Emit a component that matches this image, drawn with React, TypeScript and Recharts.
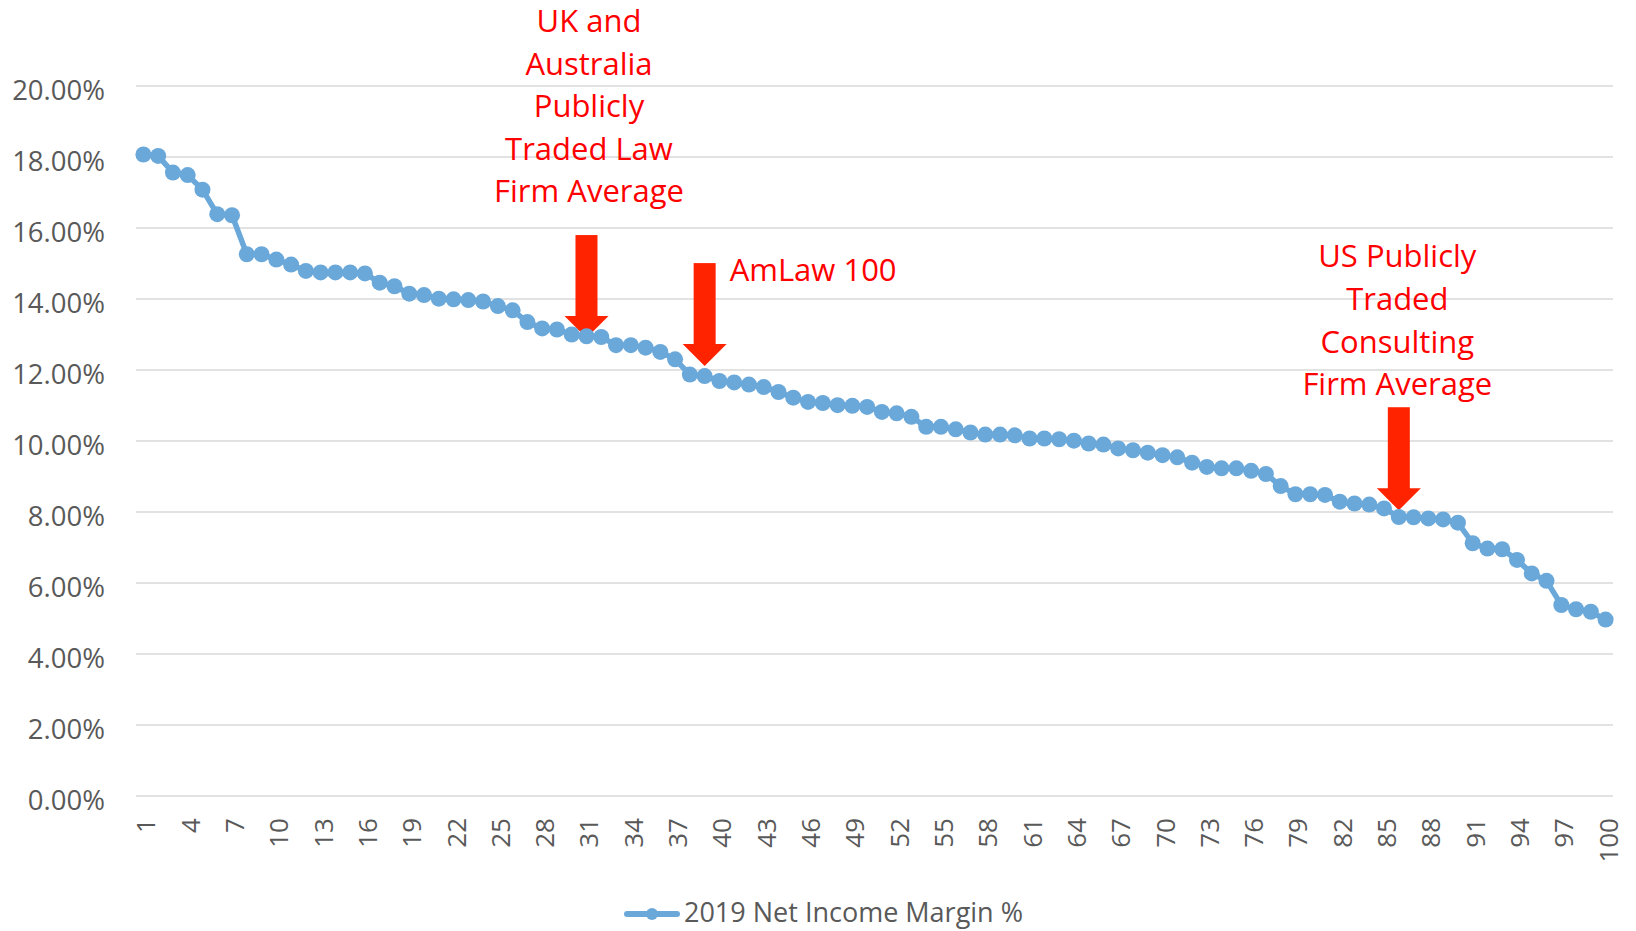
import { LineChart, Line, XAxis, YAxis, CartesianGrid, ReferenceDot, Legend } from 'recharts'

const FONT = "'Open Sans', sans-serif"
const BLUE = '#6AA8DA'
const ARROW_RED = '#FF2300'
const TEXT_RED = '#FF0000'
const GREY = '#595959'

// firm rank 1..100
const ranks = Array.from({ length: 100 }, (_, i) => i + 1)

// 2019 net income margin, in percent
const margins = [
  18.07, 18.03, 17.56, 17.49, 17.08, 16.39, 16.36, 15.26, 15.26, 15.11,
  14.97, 14.79, 14.75, 14.75, 14.75, 14.72, 14.46, 14.36, 14.15, 14.11,
  14.01, 13.99, 13.97, 13.93, 13.8, 13.68, 13.35, 13.17, 13.14, 13.0,
  12.95, 12.93, 12.7, 12.7, 12.63, 12.51, 12.3, 11.87, 11.83, 11.69,
  11.65, 11.59, 11.52, 11.38, 11.22, 11.1, 11.07, 11.01, 10.99, 10.96,
  10.82, 10.78, 10.68, 10.4, 10.4, 10.33, 10.24, 10.18, 10.18, 10.16,
  10.07, 10.07, 10.05, 10.01, 9.93, 9.9, 9.79, 9.74, 9.67, 9.6,
  9.54, 9.39, 9.27, 9.23, 9.23, 9.16, 9.07, 8.73, 8.5, 8.5,
  8.48, 8.29, 8.24, 8.21, 8.1, 7.86, 7.85, 7.82, 7.79, 7.7,
  7.12, 6.97, 6.95, 6.65, 6.27, 6.06, 5.38, 5.26, 5.19, 4.97,
]

const yTicks = [0, 2, 4, 6, 8, 10, 12, 14, 16, 18, 20]

// benchmark averages marked with arrows (rank position, margin %)
const ukAvg = { rank: 31, value: 12.9 }
const amLawAvg = { rank: 39, value: 12.11 }
const usConsultAvg = { rank: 86, value: 8.05 }

const ukLines = ['UK and', 'Australia', 'Publicly', 'Traded Law', 'Firm Average']
const usLines = ['US Publicly', 'Traded', 'Consulting', 'Firm Average']

const data = ranks.map((r, i) => ({ rank: r, margin: margins[i] }))

const Arrow = ({ cx, cy }: { cx: number; cy: number }) => (
  <g>
    <rect x={cx - 11} y={cy - 103} width={22} height={82} fill={ARROW_RED} />
    <polygon points={`${cx - 22},${cy - 22} ${cx + 22},${cy - 22} ${cx},${cy}`} fill={ARROW_RED} />
  </g>
)

const makeMarker = (lines: string[], dx: number, firstDy: number, step: number, anchor: 'middle' | 'start') =>
  (props: any) => {
    const { cx, cy } = props
    return (
      <g>
        <Arrow cx={cx} cy={cy} />
        {lines.map((t, i) => (
          <text key={i} x={cx + dx} y={cy + firstDy + i * step} textAnchor={anchor}
            fontFamily={FONT} fontSize={31} fill={TEXT_RED}>{t}</text>
        ))}
      </g>
    )
  }

const YTick = ({ x, y, payload }: any) => (
  <text x={x} y={y} dy={13.5} textAnchor="end" fontFamily={FONT} fontSize={27.5} fill={GREY}>
    {`${payload.value.toFixed(2)}%`}
  </text>
)

const XTick = ({ x, y, payload }: any) => (
  <text x={x} y={y + 22} dy={12} textAnchor="end" transform={`rotate(-90, ${x}, ${y + 22})`}
    fontFamily={FONT} fontSize={26} fill={GREY}>
    {payload.value}
  </text>
)

const renderLegend = () => (
  <div style={{ display: 'flex', alignItems: 'center', justifyContent: 'center', paddingLeft: 10,
    fontFamily: FONT, fontSize: 27, color: GREY }}>
    <svg width={58} height={20} style={{ position: 'relative', top: 2 }}>
      <line x1={4} y1={10} x2={54} y2={10} stroke={BLUE} strokeWidth={6} strokeLinecap="round" />
      <circle cx={29} cy={10} r={6} fill={BLUE} />
    </svg>
    <span style={{ marginLeft: 3, lineHeight: '36px', whiteSpace: 'nowrap' }}>2019 Net Income Margin %</span>
  </div>
)

export default function App() {
  return (
    <div style={{ position: 'absolute', left: 0, top: 0, width: 1636, height: 931, overflow: 'hidden', background: '#fff' }}>
      <LineChart width={1636} height={931} data={data} margin={{ top: 86, right: 23, bottom: 0, left: 0 }}>
        <CartesianGrid vertical={false} stroke="#D9D9D9" strokeWidth={1.5} />
        <XAxis dataKey="rank" type="category" interval={2} height={135} tickLine={false} axisLine={false}
          padding={{ left: 7.4, right: 7.4 }} tickSize={0} tickMargin={0} tick={<XTick />} />
        <YAxis domain={[0, 20]} ticks={yTicks} width={136} tickLine={false} axisLine={false}
          tickSize={0} tickMargin={31} tick={<YTick />} />
        <Legend layout="horizontal" verticalAlign="middle" align="center" content={renderLegend}
          wrapperStyle={{ top: 894, left: 0, width: 1636, height: 36 }} />
        <Line dataKey="margin" stroke={BLUE} strokeWidth={5.5} isAnimationActive={false}
          dot={{ r: 8, fill: BLUE, stroke: 'none' }} activeDot={false} />
        <ReferenceDot x={ukAvg.rank} y={ukAvg.value} shape={makeMarker(ukLines, 2.5, -306, 42.5, 'middle')} />
        <ReferenceDot x={amLawAvg.rank} y={amLawAvg.value} shape={makeMarker(['AmLaw 100'], 25, -85, 0, 'start')} />
        <ReferenceDot x={usConsultAvg.rank} y={usConsultAvg.value} shape={makeMarker(usLines, -1.5, -243, 42.7, 'middle')} />
      </LineChart>
    </div>
  )
}
